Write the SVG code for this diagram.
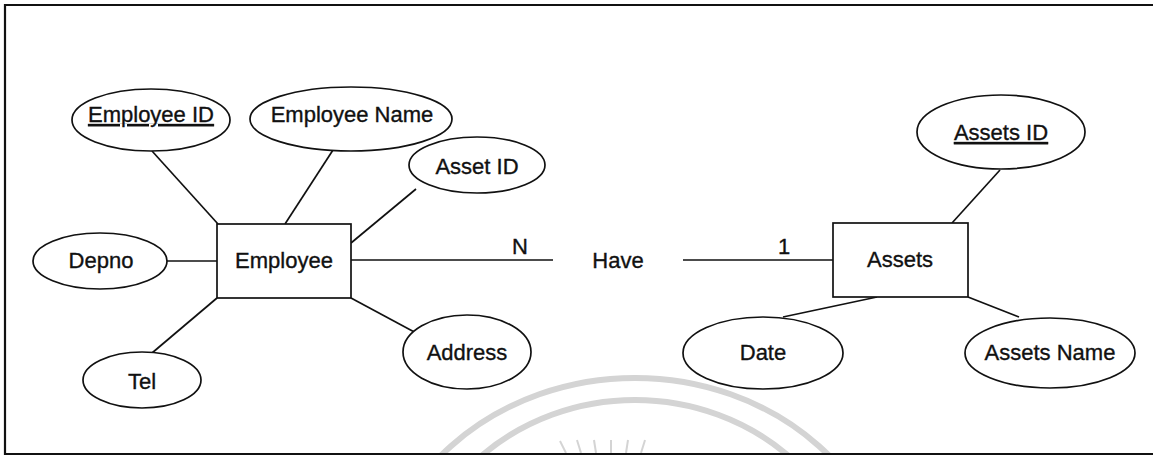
<svg xmlns="http://www.w3.org/2000/svg" width="1153" height="464" viewBox="0 0 1153 464">
  <style>
    .frame { stroke: #111; stroke-width: 2.2; fill: none; }
    .attr { fill: #fff; stroke: #111; stroke-width: 1.7; }
    .ent { fill: #fff; stroke: #111; stroke-width: 1.7; }
    .link { stroke: #111; stroke-width: 1.7; fill: none; }
    .lbl { font-family: "Liberation Sans", Arial, sans-serif; font-size: 22px; fill: #111; stroke: #111; stroke-width: 0.35; text-anchor: middle; }
    .key { text-decoration: underline; }
    .mark { fill: none; stroke: #d4d4d4; stroke-width: 6; }
    .ray { stroke: #d4d4d4; stroke-width: 2; }
  </style>
  <defs>
    <clipPath id="inside">
      <rect x="6" y="6" width="1147" height="447"/>
    </clipPath>
  </defs>

  <rect width="1153" height="464" fill="#fff"/>

  <!-- faint seal in the background -->
  <g id="seal" clip-path="url(#inside)">
    <ellipse class="mark" cx="635" cy="610" rx="260" ry="232"/>
    <ellipse class="mark" cx="635" cy="610" rx="226" ry="210"/>
    <line class="ray" x1="566" y1="453" x2="560" y2="441"/>
    <line class="ray" x1="581" y1="453" x2="577" y2="440"/>
    <line class="ray" x1="596" y1="453" x2="594" y2="440"/>
    <line class="ray" x1="611" y1="453" x2="611" y2="440"/>
    <line class="ray" x1="626" y1="453" x2="628" y2="440"/>
    <line class="ray" x1="641" y1="453" x2="645" y2="440"/>
  </g>

  <!-- outer frame (open on the right) -->
  <g id="frame">
    <polyline class="frame" points="1153,5 5,5 5,454 1153,454"/>
  </g>

  <!-- connectors -->
  <g id="connectors">
    <line class="link" x1="152" y1="151" x2="218" y2="224"/>
    <line class="link" x1="333" y1="150" x2="285" y2="224"/>
    <line class="link" x1="416" y1="189" x2="351" y2="243"/>
    <line class="link" x1="167" y1="261" x2="217" y2="261"/>
    <line class="link" x1="217" y1="298" x2="152" y2="353"/>
    <line class="link" x1="351" y1="298" x2="418" y2="334"/>
    <line class="link" x1="351" y1="260" x2="553" y2="260"/>
    <line class="link" x1="683" y1="260" x2="833" y2="260"/>
    <line class="link" x1="1000" y1="170" x2="952" y2="223"/>
    <line class="link" x1="877" y1="297" x2="783" y2="317"/>
    <line class="link" x1="968" y1="297" x2="1019" y2="317"/>
    <text class="lbl" x="520" y="254">N</text>
    <text class="lbl" x="784" y="254">1</text>
  </g>

  <!-- Employee entity and its attributes -->
  <g id="employee">
    <rect class="ent" x="217" y="224" width="134" height="74"/>
    <text class="lbl" x="284" y="268">Employee</text>
  </g>
  <g id="employee-id">
    <ellipse class="attr" cx="151" cy="120" rx="79" ry="31"/>
    <text class="lbl key" x="151" y="122">Employee ID</text>
  </g>
  <g id="employee-name">
    <ellipse class="attr" cx="351" cy="119" rx="101" ry="32"/>
    <text class="lbl" x="352" y="122">Employee Name</text>
  </g>
  <g id="asset-id">
    <ellipse class="attr" cx="477" cy="165" rx="68" ry="28"/>
    <text class="lbl" x="477" y="174">Asset ID</text>
  </g>
  <g id="depno">
    <ellipse class="attr" cx="100" cy="261" rx="67" ry="28"/>
    <text class="lbl" x="101" y="268">Depno</text>
  </g>
  <g id="tel">
    <ellipse class="attr" cx="142" cy="380" rx="59" ry="28"/>
    <text class="lbl" x="142" y="389">Tel</text>
  </g>
  <g id="address">
    <ellipse class="attr" cx="467" cy="352" rx="64" ry="37"/>
    <text class="lbl" x="467" y="360">Address</text>
  </g>

  <!-- relationship -->
  <g id="have">
    <text class="lbl" x="618" y="268">Have</text>
  </g>

  <!-- Assets entity and its attributes -->
  <g id="assets">
    <rect class="ent" x="833" y="223" width="135" height="74"/>
    <text class="lbl" x="900" y="267">Assets</text>
  </g>
  <g id="assets-id">
    <ellipse class="attr" cx="1001" cy="132" rx="84" ry="37"/>
    <text class="lbl key" x="1001" y="140">Assets ID</text>
  </g>
  <g id="date">
    <ellipse class="attr" cx="763" cy="353" rx="80" ry="36"/>
    <text class="lbl" x="763" y="360">Date</text>
  </g>
  <g id="assets-name">
    <ellipse class="attr" cx="1050" cy="353" rx="85" ry="35"/>
    <text class="lbl" x="1050" y="360">Assets Name</text>
  </g>
</svg>
